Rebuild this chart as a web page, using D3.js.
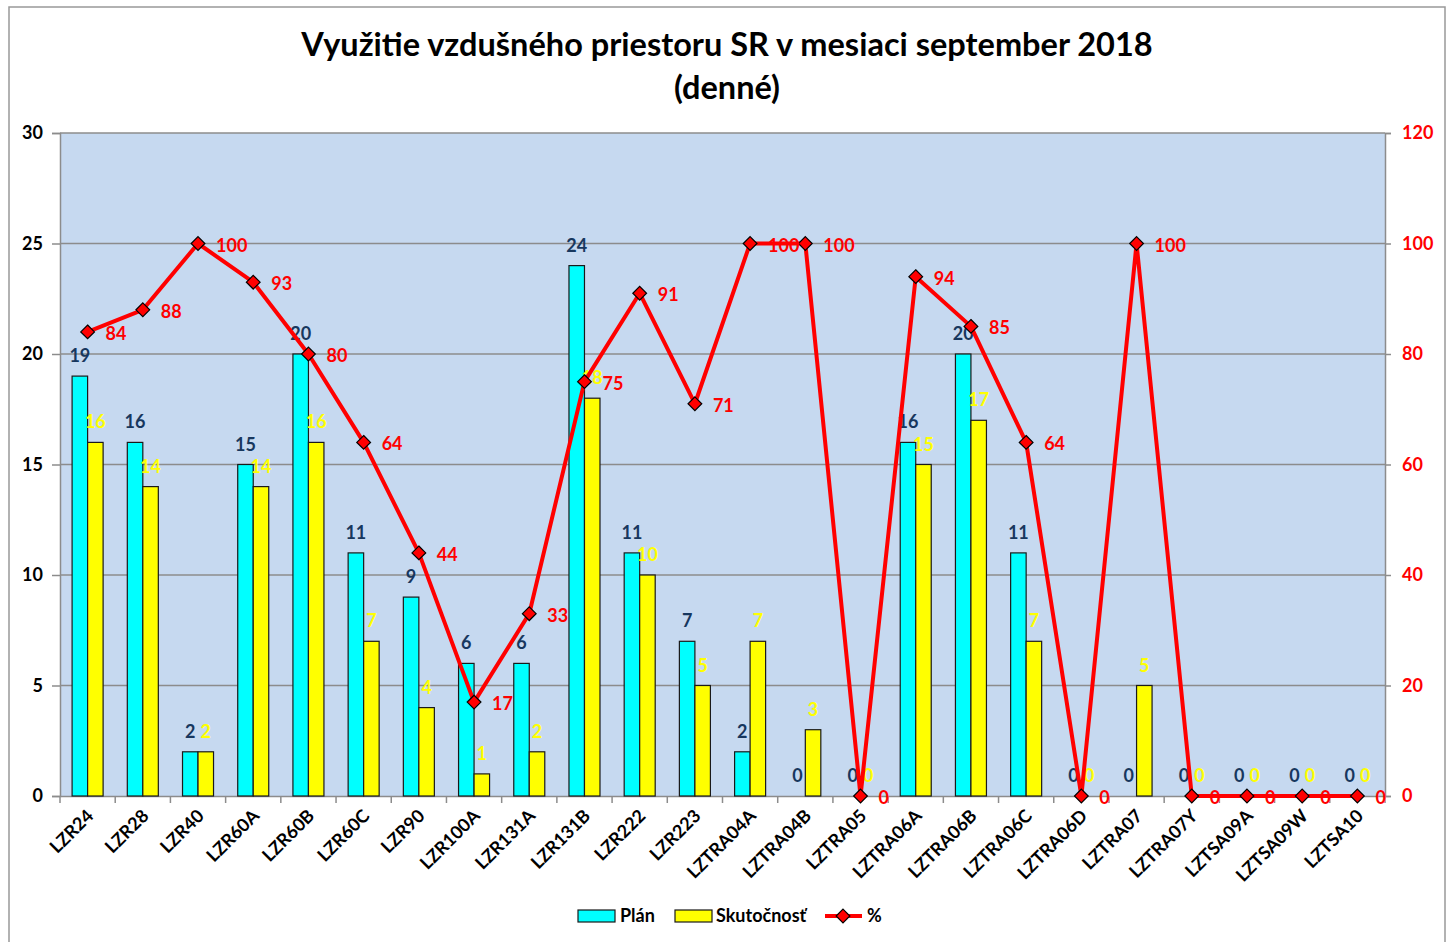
<!DOCTYPE html>
<html>
<head>
<meta charset="utf-8">
<script src="https://cdn.jsdelivr.net/npm/d3@7"></script>
<style>
  body { margin: 0; background: #fff; }
  svg text { font-family: Lato, "Open Sans", sans-serif; font-weight: bold; }
</style>
</head>
<body>
<div id="chart"></div>
<script>
// DATA
const categories = ["LZR24", "LZR28", "LZR40", "LZR60A", "LZR60B", "LZR60C", "LZR90", "LZR100A",
  "LZR131A", "LZR131B", "LZR222", "LZR223", "LZTRA04A", "LZTRA04B", "LZTRA05", "LZTRA06A",
  "LZTRA06B", "LZTRA06C", "LZTRA06D", "LZTRA07", "LZTRA07Y", "LZTSA09A", "LZTSA09W", "LZTSA10"];
const plan = [19, 16, 2, 15, 20, 11, 9, 6, 6, 24, 11, 7, 2, 0, 0, 16, 20, 11, 0, 0, 0, 0, 0, 0];
const skutocnost = [16, 14, 2, 14, 16, 7, 4, 1, 2, 18, 10, 5, 7, 3, 0, 15, 17, 7, 0, 5, 0, 0, 0, 0];
const percent = [84, 88, 100, 93, 80, 64, 44, 17, 33, 75, 91, 71, 100, 100, 0, 94, 85, 64, 0, 100, 0, 0, 0, 0];
const leftTicks = [0, 5, 10, 15, 20, 25, 30];
const rightTicks = [0, 20, 40, 60, 80, 100, 120];

// CONSTANTS
const WIDTH = 1456;
const HEIGHT = 942;
const PLOT = { left: 60, right: 1385, top: 133, bottom: 796 };

const svg = d3.select("#chart")
  .append("svg")
  .attr("width", WIDTH)
  .attr("height", HEIGHT);

// outer border (open at the bottom)
svg.append("path")
  .attr("d", `M9,${HEIGHT} V7 H1445 V${HEIGHT}`)
  .attr("fill", "none")
  .attr("stroke", "#999")
  .attr("stroke-width", 1.5);

// title
const title = svg.append("text")
  .attr("x", 727)
  .attr("text-anchor", "middle")
  .attr("font-size", 32.5)
  .attr("fill", "#000");
title.append("tspan").attr("x", 727).attr("y", 56).text("Využitie vzdušného priestoru SR v mesiaci september 2018");
title.append("tspan").attr("x", 727).attr("y", 99).text("(denné)");

// SCALES
const x = d3.scaleBand().domain(categories).range([PLOT.left, PLOT.right]).padding(0);
const x1 = d3.scaleBand().domain(["plan", "skut"]).range([0, x.bandwidth()])
  .paddingInner(0).paddingOuter(0.78);
const yL = d3.scaleLinear().domain([0, 30]).range([PLOT.bottom, PLOT.top]);
const yR = d3.scaleLinear().domain([0, 120]).range([PLOT.bottom, PLOT.top]);

// plot background
svg.append("rect")
  .attr("x", PLOT.left)
  .attr("y", PLOT.top)
  .attr("width", PLOT.right - PLOT.left)
  .attr("height", PLOT.bottom - PLOT.top)
  .attr("fill", "#c6d9f0");

// gridlines
svg.append("g")
  .selectAll("line")
  .data(leftTicks.filter(d => d > 0))
  .enter()
  .append("line")
  .attr("x1", PLOT.left)
  .attr("x2", PLOT.right)
  .attr("y1", d => yL(d))
  .attr("y2", d => yL(d))
  .attr("stroke", "#8c8c8c")
  .attr("stroke-width", 1.2);

// AXES
const leftAxis = svg.append("g")
  .attr("transform", `translate(${PLOT.left},0)`)
  .call(d3.axisLeft(yL).tickValues(leftTicks).tickSize(8).tickPadding(9));
leftAxis.selectAll("text").attr("font-size", 18).attr("fill", "#000");

const rightAxis = svg.append("g")
  .attr("transform", `translate(${PLOT.right},0)`)
  .call(d3.axisRight(yR).tickValues(rightTicks).tickSize(6).tickPadding(11));
rightAxis.selectAll("text").attr("font-size", 18).attr("fill", "#ff0000");

const bottomAxis = svg.append("g")
  .attr("transform", `translate(0,${PLOT.bottom})`)
  .call(d3.axisBottom(x).tickSize(0).tickFormat(""));

// category boundary ticks
bottomAxis.selectAll(".sep")
  .data(categories)
  .enter()
  .append("line")
  .attr("class", "sep")
  .attr("x1", d => x(d))
  .attr("x2", d => x(d))
  .attr("y1", 0)
  .attr("y2", 7);
bottomAxis.append("line")
  .attr("x1", PLOT.right).attr("x2", PLOT.right).attr("y1", 0).attr("y2", 7);

svg.selectAll(".domain, .tick line, .sep, g line")
  .attr("stroke", "#8c8c8c")
  .attr("stroke-width", 1.5);

// x labels
svg.append("g")
  .selectAll("text")
  .data(categories)
  .enter()
  .append("text")
  .attr("transform", d => `translate(${x(d) + x.bandwidth() / 2 + 7},${PLOT.bottom + 21}) rotate(-45)`)
  .attr("text-anchor", "end")
  .attr("font-size", 18)
  .attr("fill", "#000")
  .text(d => d);

// BARS
const groups = svg.append("g")
  .selectAll("g")
  .data(categories.map((c, i) => ({ c, plan: plan[i], skut: skutocnost[i] })))
  .enter()
  .append("g")
  .attr("transform", d => `translate(${x(d.c)},0)`);

const barStyle = [
  { key: "plan", fill: "#00ffff", label: "#17375e" },
  { key: "skut", fill: "#ffff00", label: "#ffff00" },
];

barStyle.forEach(s => {
  groups.filter(d => d[s.key] > 0)
    .append("rect")
    .attr("x", x1(s.key))
    .attr("y", d => yL(d[s.key]))
    .attr("width", x1.bandwidth())
    .attr("height", d => yL(0) - yL(d[s.key]))
    .attr("fill", s.fill)
    .attr("stroke", "#1a1a1a")
    .attr("stroke-width", 1.2);
});

// LINE
const pts = categories.map((c, i) => [x(c) + x.bandwidth() / 2, yR(percent[i])]);
svg.append("path")
  .attr("d", d3.line()(pts))
  .attr("fill", "none")
  .attr("stroke", "#ff0000")
  .attr("stroke-width", 4)
  .attr("stroke-linejoin", "round");

const diamond = d3.symbol().type(d3.symbolDiamond2).size(120);
svg.append("g")
  .selectAll("path")
  .data(pts)
  .enter()
  .append("path")
  .attr("d", diamond)
  .attr("transform", d => `translate(${d[0]},${d[1]})`)
  .attr("fill", "#ff0000")
  .attr("stroke", "#000")
  .attr("stroke-width", 1.2);

// DATA LABELS
barStyle.forEach(s => {
  groups.append("text")
    .attr("x", x1(s.key) + x1.bandwidth() / 2)
    .attr("y", d => yL(d[s.key]) - 14)
    .attr("text-anchor", "middle")
    .attr("font-size", 18)
    .attr("fill", s.label)
    .text(d => d[s.key]);
});

svg.append("g")
  .selectAll("text")
  .data(pts)
  .enter()
  .append("text")
  .attr("x", d => d[0] + 18)
  .attr("y", d => d[1] + 8)
  .attr("font-size", 18)
  .attr("fill", "#ff0000")
  .text((d, i) => percent[i]);

// LEGEND
const legend = svg.append("g").attr("transform", "translate(0,916)");
legend.append("rect").attr("x", 578).attr("y", -6).attr("width", 37).attr("height", 12)
  .attr("fill", "#00ffff").attr("stroke", "#1a1a1a").attr("stroke-width", 1.2);
legend.append("text").attr("x", 620).attr("y", 6).attr("font-size", 18).text("Plán");
legend.append("rect").attr("x", 675).attr("y", -6).attr("width", 37).attr("height", 12)
  .attr("fill", "#ffff00").attr("stroke", "#1a1a1a").attr("stroke-width", 1.2);
legend.append("text").attr("x", 716).attr("y", 6).attr("font-size", 18).text("Skutočnosť");
legend.append("line").attr("x1", 825).attr("x2", 862).attr("y1", 0).attr("y2", 0)
  .attr("stroke", "#ff0000").attr("stroke-width", 4);
legend.append("path").attr("d", diamond).attr("transform", "translate(843,0)")
  .attr("fill", "#ff0000").attr("stroke", "#000").attr("stroke-width", 1.2);
legend.append("text").attr("x", 867).attr("y", 6).attr("font-size", 18).text("%");
</script>
</body>
</html>
